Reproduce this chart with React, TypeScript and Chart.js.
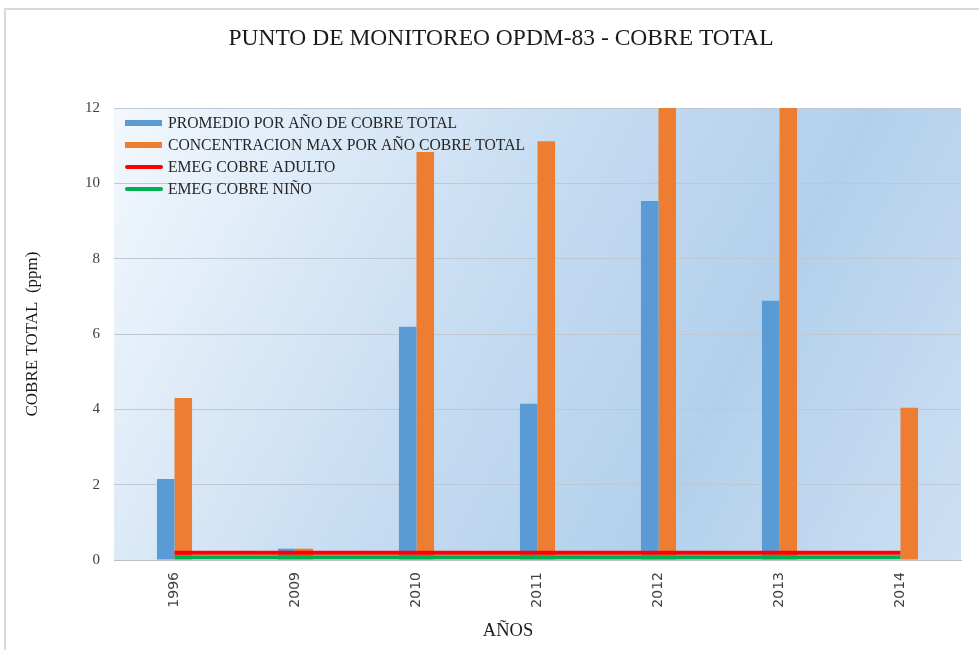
import React, { useEffect, useRef } from "react";
import { Chart, registerables } from "chart.js";

Chart.register(...registerables);

const categories = ["1996", "2009", "2010", "2011", "2012", "2013", "2014"];
const promedio = [2.15, 0.3, 6.19, 4.15, 9.53, 6.88, 0];
const maxima = [4.3, 0.3, 10.83, 11.12, 13.4, 12.8, 4.04];
const emegAdulto = [0.19, 0.19, 0.19, 0.19, 0.19, 0.19, 0.19];
const emegNino = [0.07, 0.07, 0.07, 0.07, 0.07, 0.07, 0.07];
const yTicks = [0, 2, 4, 6, 8, 10, 12];
const chartTitle = "PUNTO DE MONITOREO OPDM-83 - COBRE TOTAL";
const xTitle = "AÑOS";
const yTitle = "COBRE TOTAL  (ppm)";

const SERIF = "'Liberation Serif', 'Times New Roman', serif";

const framePlugin = {
  id: "frame",
  beforeDraw(chart: any) {
    const { ctx, chartArea: a, width, height } = chart;
    ctx.save();
    ctx.strokeStyle = "#d9d9d9";
    ctx.lineWidth = 2;
    ctx.beginPath();
    ctx.moveTo(5, height);
    ctx.lineTo(5, 9);
    ctx.lineTo(width, 9);
    ctx.stroke();
    const g = ctx.createLinearGradient(a.left, a.top, a.right, a.bottom);
    g.addColorStop(0, "#f3f8fd");
    g.addColorStop(0.45, "#c4dbf1");
    g.addColorStop(0.7, "#b3d0eb");
    g.addColorStop(1, "#cde0f3");
    ctx.fillStyle = g;
    ctx.fillRect(a.left, a.top, a.right - a.left, a.bottom - a.top);
    // chart title and x-axis title
    ctx.fillStyle = "#1a1a1a";
    ctx.textAlign = "center";
    ctx.textBaseline = "middle";
    ctx.font = `23.5px ${SERIF}`;
    ctx.fillText(chartTitle, 501, 39);
    ctx.font = `18.5px ${SERIF}`;
    ctx.fillText(xTitle, 508, 631);
    ctx.restore();
  },
};

const legendPlugin = {
  id: "innerLegend",
  afterDatasetsDraw(chart: any) {
    const { ctx, chartArea: a } = chart;
    const ds = chart.data.datasets;
    ctx.save();
    ctx.font = `15.7px ${SERIF}`;
    ctx.textBaseline = "middle";
    ctx.textAlign = "left";
    const x0 = a.left + 11;
    const y0 = a.top + 15;
    ds.forEach((d: any, i: number) => {
      const y = y0 + i * 22;
      if (d.type === "line") {
        ctx.strokeStyle = d.borderColor;
        ctx.lineWidth = 4;
        ctx.lineCap = "round";
        ctx.beginPath();
        ctx.moveTo(x0 + 2, y);
        ctx.lineTo(x0 + 36, y);
        ctx.stroke();
      } else {
        ctx.fillStyle = d.backgroundColor;
        ctx.fillRect(x0, y - 3, 37, 6);
      }
      ctx.fillStyle = "#262626";
      ctx.fillText(d.label, x0 + 43, y + 1);
    });
    ctx.restore();
  },
};

export default function App() {
  const ref = useRef<HTMLCanvasElement | null>(null);
  useEffect(() => {
    if (!ref.current) return;
    const chart = new Chart(ref.current, {
      type: "bar",
      data: {
        labels: categories,
        datasets: [
          {
            type: "bar",
            label: "PROMEDIO POR AÑO DE COBRE TOTAL",
            data: promedio,
            backgroundColor: "#5b9bd5",
            order: 2,
          },
          {
            type: "bar",
            label: "CONCENTRACION MAX POR AÑO COBRE TOTAL",
            data: maxima,
            backgroundColor: "#ed7d31",
            order: 2,
          },
          {
            type: "line",
            label: "EMEG COBRE ADULTO",
            data: emegAdulto,
            borderColor: "#ff0000",
            backgroundColor: "#ff0000",
            borderWidth: 4,
            pointRadius: 0,
            order: 1,
          },
          {
            type: "line",
            label: "EMEG COBRE NIÑO",
            data: emegNino,
            borderColor: "#00b050",
            backgroundColor: "#00b050",
            borderWidth: 4,
            pointRadius: 0,
            order: 1,
          },
        ] as any,
      },
      options: {
        animation: false,
        responsive: false,
        maintainAspectRatio: false,
        datasets: { bar: { categoryPercentage: 0.29, barPercentage: 1.0 } },
        layout: { padding: { top: 108, right: 18, bottom: 0, left: 0 } },
        plugins: {
          legend: { display: false },
          tooltip: { enabled: false },
          title: { display: false },
        },
        scales: {
          x: {
            grid: { display: false, drawTicks: false },
            border: { display: true, color: "#bfbfbf", width: 1 },
            ticks: {
              color: "#404040",
              font: { family: "'DejaVu Sans', sans-serif", size: 14 },
              minRotation: 90,
              maxRotation: 90,
              padding: 12,
            },
            afterFit(scale: any) {
              scale.height = 90;
            },
          },
          y: {
            min: 0,
            max: 12,
            afterBuildTicks(scale: any) {
              scale.ticks = yTicks.map((v) => ({ value: v }));
            },
            grid: { color: "#bfc8d2", drawTicks: false },
            border: { display: false },
            ticks: {
              color: "#404040",
              font: { family: SERIF, size: 15 },
              padding: 14,
            },
            title: {
              display: true,
              text: yTitle,
              color: "#1a1a1a",
              font: { family: SERIF, size: 17 },
              padding: { top: 22, bottom: 0 },
            },
            afterFit(scale: any) {
              scale.width = 114;
            },
          },
        },
      },
      plugins: [framePlugin, legendPlugin],
    });
    return () => chart.destroy();
  }, []);
  return (
    <div style={{ position: "fixed", left: 0, top: 0 }}>
      <canvas ref={ref} width={979} height={650} style={{ display: "block" }} />
    </div>
  );
}
